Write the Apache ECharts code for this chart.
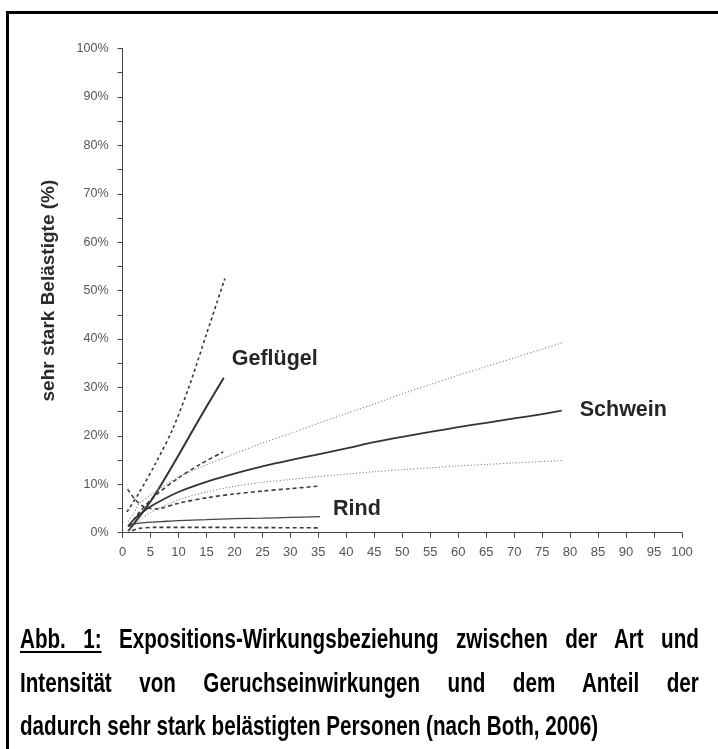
<!DOCTYPE html>
<html>
<head>
<meta charset="utf-8">
<script src="https://cdn.jsdelivr.net/npm/echarts@6/dist/echarts.min.js"></script>
<style>
  html, body { margin: 0; padding: 0; background: #fff; }
  #wrap { position: relative; width: 718px; height: 749px; overflow: hidden; background: #fff; }
  #frame { position: absolute; left: 6px; top: 11px; width: 800px; height: 800px;
           border-left: 3px solid #000; border-top: 3px solid #000; box-sizing: border-box; }
  #chart { position: absolute; left: 0; top: 0; width: 718px; height: 749px; }
  #caption { position: absolute; left: 20px; top: 618px; width: 888px;
             transform: scaleX(0.7645); transform-origin: 0 0;
             font-family: "Liberation Sans", Arial, sans-serif;
             font-weight: bold; font-size: 27px; color: #000; line-height: 43.5px; }
  #caption div { white-space: nowrap; }
  #caption .j { text-align: justify; text-align-last: justify; white-space: normal; }
  #caption u { text-decoration: underline; text-decoration-thickness: 2px; text-underline-offset: 3px; }
</style>
</head>
<body>
<div id="wrap">
  <div id="frame"></div>
  <div id="chart"></div>
  <div id="caption">
    <div class="j"><u>Abb. 1:</u> Expositions-Wirkungsbeziehung zwischen der Art und</div>
    <div class="j">Intensität von Geruchseinwirkungen und dem Anteil der</div>
    <div>dadurch sehr stark belästigten Personen (nach Both, 2006)</div>
  </div>
</div>
<script>
// ---- data (x = Geruchsstundenhäufigkeit, y = sehr stark Belästigte in %) ----
const xTicks = [0, 100];
const yTitle = 'sehr stark Belästigte (%)';

const gefluegelX      = [1, 2, 4, 6, 9, 12, 15, 18.1];
const gefluegelMitte  = [0.3, 1.8, 4.8, 8.2, 14, 20, 26, 32];
const gefluegelObenX  = [0.8, 3, 6, 9, 12, 15, 18.3];
const gefluegelOben   = [4.3, 8.3, 14.5, 21.5, 30.5, 41, 52.5];
const gefluegelUntenX = [1.2, 3, 6, 10, 14, 18];
const gefluegelUnten  = [1.3, 4.2, 7.8, 11.3, 14.2, 16.7];

const schweinX      = [1, 2, 3, 5, 10, 15, 20, 25, 30, 35, 40, 45, 50, 55, 60, 65, 70, 75, 78.5];
const schweinMitte  = [1.3, 2.7, 3.7, 5.4, 8.4, 10.5, 12.2, 13.7, 15, 16.2, 17.4, 18.7, 19.8, 20.8, 21.8, 22.7, 23.6, 24.5, 25.2];
const schweinOben   = [2.3, 4, 6, 7.8, 11.5, 14, 16.3, 18.5, 20.5, 22.6, 24.6, 26.6, 28.7, 30.6, 32.5, 34.3, 36.1, 37.9, 39.2];
const schweinUnten  = [0.3, 1.5, 2.5, 4.2, 6.8, 8.4, 9.6, 10.4, 11, 11.6, 12.1, 12.6, 13, 13.4, 13.8, 14.1, 14.4, 14.7, 14.9];

const rindX         = [1, 2, 4, 7, 10, 15, 20, 25, 30, 35.3];
const rindMitte     = [1.3, 1.8, 2.1, 2.3, 2.5, 2.7, 2.9, 3.0, 3.15, 3.3];
const rindObenX     = [0.9, 2.3, 3.8, 6, 10, 15, 20, 25, 30, 34.8];
const rindOben      = [9, 6.8, 5.4, 4.9, 6.1, 7.2, 8, 8.6, 9.1, 9.6];
const rindUntenX    = [1.7, 3, 6, 15, 25, 35.3];
const rindUnten     = [0.4, 0.9, 1.1, 1.1, 1.05, 1.0];

const labels = { gefluegel: 'Geflügel', schwein: 'Schwein', rind: 'Rind' };

// ---- helpers ----
const zip = (xs, ys) => xs.map((x, i) => [x, ys[i]]);
const labelFont = { fontFamily: 'Liberation Sans, Arial, sans-serif', fontWeight: 'bold', fontSize: 21.5, color: '#262626' };

function line(data, style, extra) {
  return Object.assign({
    type: 'line', data: data, symbol: 'none', smooth: 0.3, silent: true,
    lineStyle: style, z: 3
  }, extra || {});
}
function endLab(text, offset) {
  return { endLabel: Object.assign({ show: true, formatter: text, distance: 0, offset: offset, align: 'left', verticalAlign: 'middle' }, labelFont) };
}

const dashed = { color: '#3a3a3a', width: 1.6, type: [4, 3] };
const dashedShort = { color: '#3a3a3a', width: 1.6, type: [3, 3] };
const dotted = { color: '#8a8a8a', width: 1.1, type: [1.2, 2] };

const chart = echarts.init(document.getElementById('chart'), null, { renderer: 'canvas' });
chart.setOption({
  animation: false,
  backgroundColor: 'transparent',
  grid: { left: 122.5, right: 36, top: 48.5, bottom: 216.3, containLabel: false },
  xAxis: {
    type: 'value', min: xTicks[0], max: xTicks[1], interval: 5,
    axisLine: { show: true, onZero: false, lineStyle: { color: '#444', width: 1 } },
    axisTick: { show: true, length: 5, lineStyle: { color: '#444' } },
    axisLabel: { margin: 13, fontSize: 13, color: '#555', fontFamily: 'Liberation Sans, Arial, sans-serif' },
    splitLine: { show: false }
  },
  yAxis: {
    type: 'value', min: 0, max: 100, interval: 10,
    name: yTitle, nameLocation: 'middle', nameGap: 64, nameRotate: 90,
    nameTextStyle: { fontFamily: 'Liberation Sans, Arial, sans-serif', fontWeight: 'bold', fontSize: 19, color: '#2b2b2b' },
    axisLine: { show: true, lineStyle: { color: '#444', width: 1 } },
    axisTick: { show: true, length: 5, lineStyle: { color: '#444' } },
    minorTick: { show: true, splitNumber: 2, length: 5, lineStyle: { color: '#444' } },
    axisLabel: { margin: 14, fontSize: 12.5, color: '#555', formatter: '{value}%', fontFamily: 'Liberation Sans, Arial, sans-serif' },
    splitLine: { show: false }
  },
  series: [
    line(zip(gefluegelObenX, gefluegelOben), dashedShort),
    line(zip(gefluegelUntenX, gefluegelUnten), dashed),
    line(zip(gefluegelX, gefluegelMitte), { color: '#333', width: 2 }, endLab(labels.gefluegel, [8, -19])),
    line(zip(schweinX, schweinOben), dotted),
    line(zip(schweinX, schweinUnten), dotted),
    line(zip(schweinX, schweinMitte), { color: '#333', width: 1.8 }, endLab(labels.schwein, [18, -1])),
    line(zip(rindObenX, rindOben), dashed),
    line(zip(rindUntenX, rindUnten), dashed),
    line(zip(rindX, rindMitte), { color: '#444', width: 1.3 }, endLab(labels.rind, [13, -8]))
  ]
});
</script>
</body>
</html>
